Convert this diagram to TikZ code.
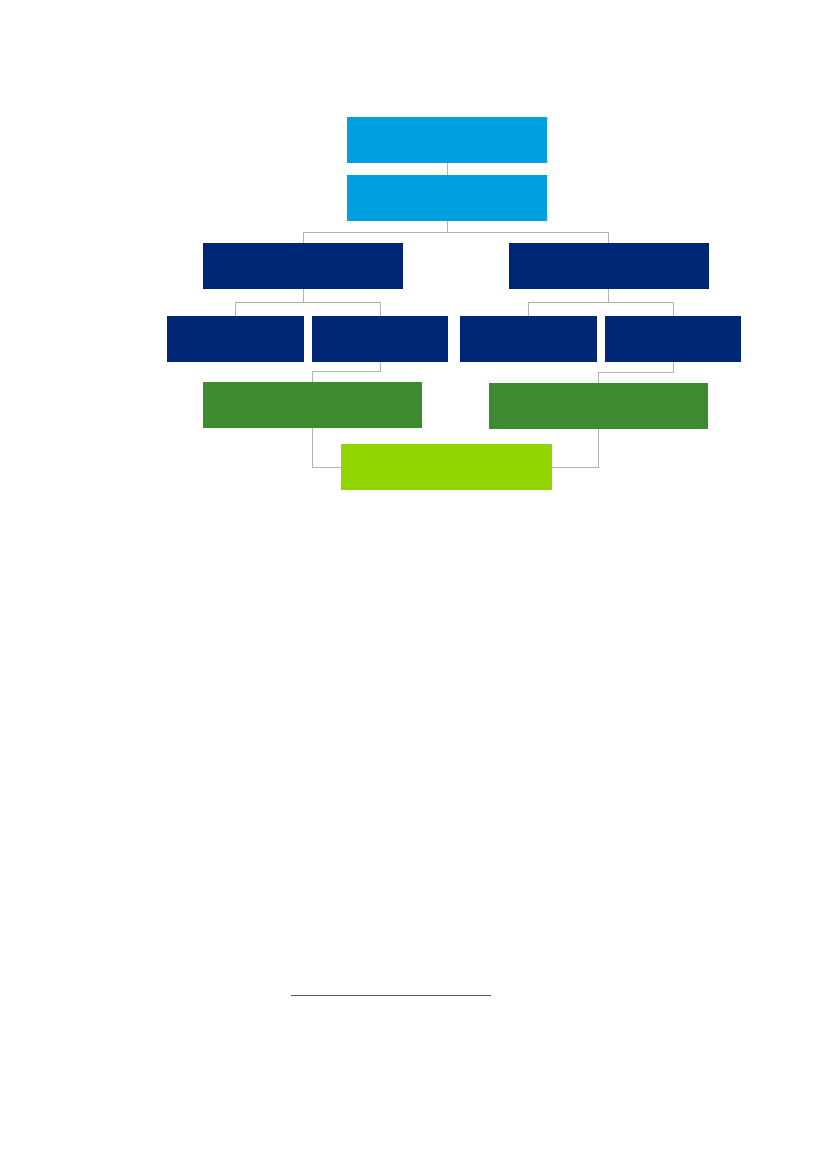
\documentclass[tikz,border=0pt]{standalone}
\usepackage{tikz}
\usetikzlibrary{calc,shapes,arrows}

\definecolor{skyblue}{HTML}{009FDF}
\definecolor{navyblue}{HTML}{002776}
\definecolor{leafgreen}{HTML}{3E8A2F}
\definecolor{limegreen}{HTML}{92D400}
\definecolor{linkgray}{HTML}{B2B2B2}

\tikzset{
	box/.style={rectangle, inner sep=0pt, outer sep=0pt, minimum height=11.68mm},
	topbox/.style={box, fill=skyblue, minimum width=50.8mm},
	midbox/.style={box, fill=navyblue, minimum width=50.8mm},
	smallbox/.style={box, fill=navyblue, minimum width=34.7mm},
	greenbox/.style={box, fill=leafgreen, minimum width=55.63mm},
	endbox/.style={box, fill=limegreen, minimum width=53.59mm},
	link/.style={draw=linkgray, line width=0.7pt, shorten <=0.3pt, shorten >=0.3pt}
}

\begin{document}
\begin{tikzpicture}[x=0.254mm, y=-0.254mm]

		\useasboundingbox (0,0) rectangle (827,1169);

		\node[topbox, at={(447,140)}] (top) {};
		\node[topbox, at={(447,198)}] (sub) {};

		\node[midbox, at={(303,266)}] (left) {};
		\node[midbox, at={(608.5,266)}] (right) {};

		\node[smallbox, at={(235.5,339)}] (leftA) {};
		\node[smallbox, at={(380,339)}] (leftB) {};
		\node[smallbox, at={(528.5,339)}] (rightA) {};
		\node[smallbox, at={(673,339)}] (rightB) {};

		\node[greenbox, at={(312.5,405)}] (leftG) {};
		\node[greenbox, at={(598.5,406)}] (rightG) {};

		\node[endbox, at={(446.5,467)}] (final) {};

		\coordinate (busTop) at (447,232);
		\coordinate (busLeft) at (303,302);
		\coordinate (busRight) at (608.5,302);
		\coordinate (busLG) at (380,371);
		\coordinate (busRG) at (673,372);

		\draw[link] (top.south) -- (sub.north);
		\draw[link] (sub.south) -- (busTop) -| (left.north);
		\draw[link] (busTop) -| (right.north);

		\draw[link] (left.south) -- (busLeft) -| (leftA.north);
		\draw[link] (busLeft) -| (leftB.north);
		\draw[link] (right.south) -- (busRight) -| (rightA.north);
		\draw[link] (busRight) -| (rightB.north);

		\draw[link] (leftB.south) -- (busLG) -| (leftG.north);
		\draw[link] (rightB.south) -- (busRG) -| (rightG.north);

		\draw[link] (leftG.south) |- (final.west);
		\draw[link] (rightG.south) |- (final.east);

		\coordinate (noteL) at (291,995);
		\coordinate (noteR) at (491,995);
		\draw[color={rgb,255:red,89;green,89;blue,89}, line width=0.7pt] (noteL) -- (noteR);

	\end{tikzpicture}
\end{document}
